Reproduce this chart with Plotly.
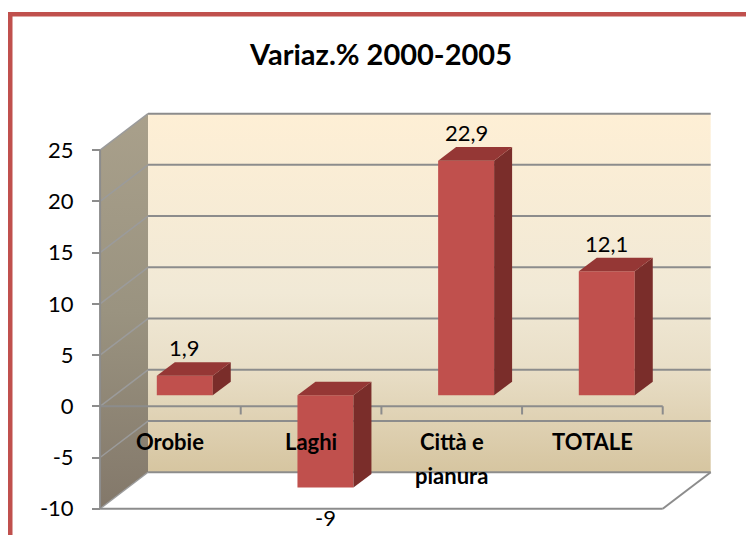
import plotly.graph_objects as go

# ---------------- data ----------------
categories = ["Orobie", "Laghi", "Città e pianura", "TOTALE"]
category_lines = [["Orobie"], ["Laghi"], ["Città e", "pianura"], ["TOTALE"]]
values = [1.9, -9, 22.9, 12.1]
y_ticks = [-10, -5, 0, 5, 10, 15, 20, 25]
y_tick_text = ["-10", "-5", "0", "5", "10", "15", "20", "25"]
chart_title = "Variaz.% 2000-2005"

# ---------------- geometry / style ----------------
W, H = 746, 535
ML, MR, MT, MB = 86, 27, 104, 16
X_RANGE = [-0.1, 4.4]
Y_RANGE = [-11, 29.5]
DX, DY = 0.341, 3.56          # oblique depth of the 3D box, in axis units
F0, F1 = 0.30, 0.675          # bars occupy this depth band
BAR_W = 0.398
YMIN, YMAX = y_ticks[0], y_ticks[-1]
n = len(categories)
FONT = "Lato"
GRID = "#8C8C8C"
RED = "#C0504D"
RED_TOP = "#953735"
RED_SIDE = "#7A2D2A"

plot_w = W - ML - MR
plot_h = H - MT - MB


def px_x(px):
    return (px - ML) / plot_w


def px_y(py):
    return (H - MB - py) / plot_h


def fmt(v):
    if float(v).is_integer():
        return str(int(v))
    return f"{v:.1f}".replace(".", ",")


fig = go.Figure()


def poly(xs, ys, color=None, gradient=None, axes=("x", "y")):
    kw = dict(x=xs + [xs[0]], y=ys + [ys[0]], mode="lines", fill="toself",
              hoverinfo="skip", showlegend=False, xaxis=axes[0], yaxis=axes[1],
              line=dict(width=0, color="rgba(0,0,0,0)"))
    if gradient is not None:
        kw["fillgradient"] = dict(type="vertical", colorscale=gradient)
    else:
        kw["fillcolor"] = color
    fig.add_trace(go.Scatter(**kw))


def segs(pairs, color, width):
    xs, ys = [], []
    for (x0, y0), (x1, y1) in pairs:
        xs += [x0, x1, None]
        ys += [y0, y1, None]
    fig.add_trace(go.Scatter(x=xs, y=ys, mode="lines", hoverinfo="skip",
                             showlegend=False, line=dict(color=color, width=width)))


# back wall
poly([DX, n + DX, n + DX, DX], [YMIN + DY, YMIN + DY, YMAX + DY, YMAX + DY],
     gradient=[[0, "#D6C5A0"], [0.3, "#E9DFC8"], [0.5, "#F1E9D6"], [1, "#FEEFD5"]])
# left wall
poly([0, DX, DX, 0], [YMIN, YMIN + DY, YMAX + DY, YMAX],
     gradient=[[0, "#83786A"], [0.5, "#9A9380"], [1, "#A9A08B"]])
# floor
poly([0, n, n + DX, DX], [YMIN, YMIN, YMIN + DY, YMIN + DY], color="#FFFFFF")

# gridlines on back wall
segs([((DX, v + DY), (n + DX, v + DY)) for v in y_ticks], GRID, 2)
# gridlines on left wall
segs([((0, v), (DX, v + DY)) for v in y_ticks], "#9B9B9B", 1.5)
# floor outline
segs([((0, YMIN), (n, YMIN)), ((n, YMIN), (n + DX, YMIN + DY))], GRID, 2)
# front value-axis line
segs([((0, YMIN), (0, YMAX))], GRID, 2)
# category axis at zero with tick marks
segs([((0, 0), (n, 0))] + [((k, 0), (k, -0.8)) for k in range(1, n + 1)], GRID, 2)

# bars (on an overlay subplot so they sit above the walls): front faces
fig.add_trace(go.Bar(
    x=[i + 0.5 + F0 * DX for i in range(n)], y=values, base=F0 * DY,
    width=BAR_W, marker=dict(color=RED, line=dict(width=0)),
    xaxis="x2", yaxis="y2", hoverinfo="skip", showlegend=False))

# bars: side & top faces
for i, v in enumerate(values):
    xl = i + 0.5 + F0 * DX - BAR_W / 2
    xr = xl + BAR_W
    b = F0 * DY
    lo, hi = min(b, b + v), max(b, b + v)
    ddx, ddy = (F1 - F0) * DX, (F1 - F0) * DY
    poly([xr, xr + ddx, xr + ddx, xr], [lo, lo + ddy, hi + ddy, hi], color=RED_SIDE,
         axes=("x2", "y2"))
    poly([xl, xl + ddx, xr + ddx, xr], [hi, hi + ddy, hi + ddy, hi], color=RED_TOP,
         axes=("x2", "y2"))

annotations = []
# value labels
for i, v in enumerate(values):
    xc = i + 0.5 + F0 * DX
    if v >= 0:
        annotations.append(dict(x=xc, y=v + F1 * DY, text=fmt(v), xref="x", yref="y",
                                showarrow=False, yanchor="bottom", yshift=-1,
                                font=dict(family=FONT, size=22, color="#000000")))
    else:
        annotations.append(dict(x=xc, y=v + F0 * DY, text=fmt(v), xref="x", yref="y",
                                showarrow=False, yanchor="top", yshift=-14,
                                font=dict(family=FONT, size=22, color="#000000")))

# category labels
LABEL_Y0, LABEL_DY = -3.4, 3.4
for i, lines in enumerate(category_lines):
    for j, t in enumerate(lines):
        annotations.append(dict(x=i + 0.5, y=LABEL_Y0 - j * LABEL_DY, text=t,
                                xref="x", yref="y", showarrow=False, yanchor="middle",
                                font=dict(family=FONT, size=22, color="#000000", weight="bold")))

fig.update_layout(
    width=W, height=H,
    margin=dict(l=ML, r=MR, t=MT, b=MB, pad=0),
    paper_bgcolor="#FFFFFF", plot_bgcolor="rgba(0,0,0,0)",
    showlegend=False,
    title=dict(text=chart_title, x=381 / W, xanchor="center", y=1 - 55 / H,
               yanchor="middle", yref="container",
               font=dict(family=FONT, size=29, color="#000000", weight="bold")),
    xaxis=dict(range=X_RANGE, visible=False, fixedrange=True),
    yaxis=dict(range=Y_RANGE, anchor="free", position=px_x(100),
               tickvals=y_ticks, ticktext=y_tick_text,
               ticks="outside", ticklen=8, tickwidth=2, tickcolor=GRID,
               ticklabelstandoff=14,
               showgrid=False, zeroline=False, showline=False,
               tickfont=dict(family=FONT, size=22, color="#000000"),
               fixedrange=True),
    xaxis2=dict(range=X_RANGE, overlaying="x", visible=False, fixedrange=True),
    yaxis2=dict(range=Y_RANGE, overlaying="y", visible=False, fixedrange=True),
    annotations=annotations,
    shapes=[dict(type="rect", xref="paper", yref="paper",
                 x0=px_x(10.25), x1=px_x(780), y0=px_y(570), y1=px_y(14.25),
                 line=dict(color=RED, width=4.5), fillcolor="rgba(0,0,0,0)")],
)

fig.write_html("out.html", config={"displayModeBar": False},
               post_script="document.body.style.margin='0';")
